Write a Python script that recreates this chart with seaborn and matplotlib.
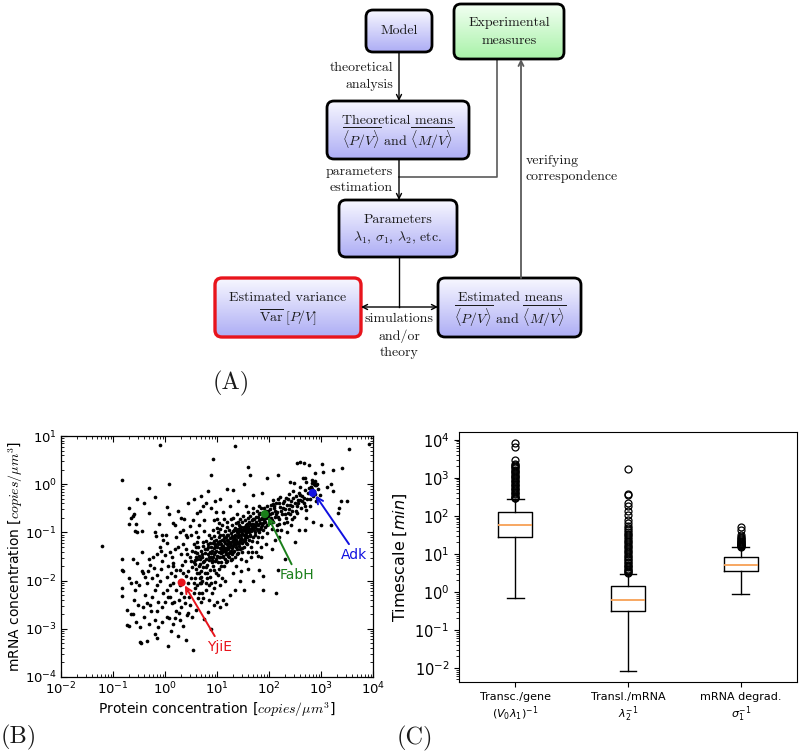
import numpy as np
import pandas as pd
import matplotlib
matplotlib.use("Agg")
import matplotlib.pyplot as plt
import seaborn as sns
from matplotlib.patches import FancyBboxPatch
from matplotlib.ticker import LogLocator, NullFormatter

# ---------------- data (panel B, log10 of protein / mRNA concentration) -------------
top_outliers = [(-0.10,0.81),(1.34,0.79),(3.93,0.83),(3.54,0.72),(0.92,0.52),(1.60,0.36),(2.54,0.45),(2.60,0.47),
    (2.67,0.44),(2.76,0.40),(3.01,0.41),(3.24,0.29),(3.41,0.33),(-0.83,0.09),(0.08,0.0),(0.88,0.19),(2.18,0.19),
    (1.96,0.12),(2.82,0.02),(2.86,0.05),(2.90,-0.02),(2.80,-0.05),(3.04,0.26),(2.88,0.23),(3.12,-0.05),(2.40,0.05),
    (2.48,0.03),(2.69,0.12),(3.24,-0.15),(3.38,-0.35),(3.50,-0.35),(3.35,-0.50),(3.33,-0.60),(3.20,-0.85),(3.00,-0.85),
    (2.98,-0.22),(1.63,0.19),(3.20,0.00),(2.85,-0.19),(-0.31,-0.08),(-0.19,-0.26)]

core = [(0.55,-1.62),(0.58,-1.40),(0.60,-1.75),(0.62,-1.55),(0.63,-1.30),(0.65,-1.85),(0.66,-1.48),(0.68,-1.66),
    (0.70,-1.38),(0.57,-1.95),(0.61,-1.20),(0.69,-1.92),(0.64,-1.10),(0.67,-2.05),(0.59,-1.52),
    (0.72,-1.50),(0.73,-1.72),(0.74,-1.28),(0.75,-1.60),(0.76,-1.42),(0.77,-1.85),(0.78,-1.18),(0.79,-1.55),
    (0.80,-1.35),(0.81,-1.68),(0.82,-1.45),(0.83,-1.25),(0.84,-1.58),(0.85,-1.05),(0.86,-1.40),(0.87,-1.78),
    (0.88,-1.30),(0.89,-1.52),(0.72,-2.00),(0.75,-0.98),(0.80,-1.95),(0.84,-2.10),(0.88,-1.12),(0.90,-1.62),
    (0.91,-1.38),(0.92,-1.22),(0.92,-1.50),(0.93,-1.70),(0.94,-1.32),(0.95,-1.08),(0.95,-1.45),(0.96,-1.60),
    (0.97,-1.25),(0.98,-1.38),(0.98,-1.85),(0.99,-1.15),(1.00,-1.48),(1.00,-1.30),(1.01,-1.00),(1.02,-1.62),
    (1.02,-1.20),(1.03,-1.40),(1.04,-1.10),(1.04,-1.75),(1.05,-1.33),(1.06,-1.52),(1.06,-0.92),(1.07,-1.25),
    (1.08,-1.42),(1.08,-1.62),(1.09,-1.15),(1.10,-1.35),(1.10,-1.95),(0.93,-0.95),(0.97,-2.02),(1.03,-0.80),
    (1.11,-1.05),(1.12,-1.28),(1.12,-1.48),(1.13,-1.18),(1.14,-1.38),(1.14,-1.70),(1.15,-0.98),(1.15,-1.22),
    (1.16,-1.55),(1.17,-1.32),(1.17,-1.10),(1.18,-1.42),(1.19,-1.25),(1.19,-0.88),(1.20,-1.60),(1.20,-1.15),
    (1.21,-1.35),(1.22,-1.05),(1.22,-1.48),(1.23,-1.22),(1.24,-1.30),(1.24,-0.95),(1.25,-1.40),(1.25,-1.12),
    (1.26,-1.58),(1.27,-1.20),(1.27,-1.02),(1.28,-1.32),(1.29,-1.45),(1.29,-0.85),(1.30,-1.15),(1.30,-1.85),
    (1.16,-2.00),(1.26,-0.72),
    (1.31,-1.28),(1.31,-0.98),(1.32,-1.10),(1.33,-1.38),(1.33,-1.20),(1.34,-0.90),(1.35,-1.05),(1.35,-1.50),
    (1.36,-1.25),(1.37,-1.15),(1.37,-0.80),(1.38,-1.35),(1.38,-1.00),(1.39,-1.20),(1.40,-0.92),(1.40,-1.10),
    (1.41,-1.42),(1.42,-1.28),(1.42,-0.85),(1.43,-1.05),(1.44,-1.18),(1.44,-0.72),(1.45,-0.98),(1.45,-1.35),
    (1.46,-1.12),(1.47,-0.88),(1.47,-1.55),(1.48,-1.02),(1.49,-1.22),(1.49,-0.78),(1.50,-0.95),(1.50,-1.15),
    (1.36,-1.70),(1.46,-1.80),(1.39,-0.62),
    (1.51,-1.05),(1.52,-0.88),(1.52,-1.30),(1.53,-0.98),(1.54,-1.12),(1.54,-0.75),(1.55,-1.02),(1.56,-0.90),
    (1.56,-1.22),(1.57,-0.82),(1.58,-1.08),(1.58,-0.95),(1.59,-1.40),(1.60,-0.70),(1.60,-0.88),(1.61,-1.00),
    (1.62,-1.15),(1.62,-0.80),(1.63,-0.92),(1.64,-1.05),(1.64,-0.65),(1.65,-0.85),(1.66,-0.98),(1.66,-1.30),
    (1.67,-0.75),(1.68,-0.90),(1.69,-1.10),(1.70,-0.82),(1.70,-0.60),(1.55,-1.60),(1.65,-1.52),
    (1.71,-0.95),(1.72,-0.72),(1.73,-0.88),(1.74,-1.05),(1.75,-0.78),(1.76,-0.55),(1.76,-0.92),(1.77,-1.20),
    (1.78,-0.68),(1.79,-0.85),(1.80,-1.00),(1.81,-0.62),(1.82,-0.80),(1.83,-0.92),(1.84,-0.50),(1.85,-0.72),
    (1.86,-1.10),(1.87,-0.85),(1.88,-0.65),(1.89,-0.95),(1.90,-0.75),(1.75,-1.40),(1.85,-1.30),
    (1.05,-1.18),(1.13,-1.32),(1.21,-1.18),(1.28,-1.08),(1.34,-1.14),(1.41,-1.02),(1.47,-0.96),(1.53,-1.06),
    (1.59,-0.86),(1.63,-0.98),(1.69,-0.88),(1.18,-1.36),(1.26,-1.26),(1.32,-1.24),(1.43,-1.22),(1.51,-1.18),
    (0.96,-1.28),(1.09,-1.40),(1.23,-1.42),(1.36,-0.94),(1.44,-0.88),(1.57,-0.96),(1.67,-0.82),(1.74,-0.84)]

core_extra = [(0.71,-1.45),(0.74,-1.62),(0.77,-1.35),(0.79,-1.72),(0.82,-1.30),(0.85,-1.50),(0.87,-1.22),
    (0.89,-1.42),(0.91,-1.58),(0.94,-1.18),(0.96,-1.40),(0.99,-1.55),(1.01,-1.25),(1.03,-1.52),(1.05,-1.05),
    (1.07,-1.38),(1.09,-1.28),(1.11,-1.52),(1.13,-1.12),(1.15,-1.35),(1.17,-1.45),(1.19,-1.05),(1.21,-1.28),
    (1.23,-1.52),(1.25,-1.22),(1.27,-1.38),(1.29,-1.10),(1.31,-1.40),(1.33,-0.95),(1.35,-1.18),(1.37,-1.30),
    (1.39,-1.08),(1.41,-1.22),(1.43,-0.95),(1.45,-1.15),(1.47,-1.05),(1.49,-1.32),(1.51,-0.92),(1.53,-1.15),
    (1.55,-0.85),(1.57,-1.10),(1.59,-0.98),(1.61,-0.78),(1.63,-1.08),(1.65,-0.92),(1.67,-1.18),(1.69,-0.72),
    (1.71,-0.85),(1.73,-1.00),(1.75,-0.68),(1.77,-0.82),(1.79,-0.95),(1.81,-0.75),(1.83,-0.60),(1.85,-0.88),
    (1.87,-0.70),(1.89,-0.80),(1.91,-0.68),(1.93,-0.78),(1.95,-0.55),(1.97,-0.85),(1.99,-0.65),(1.08,-1.70),
    (1.18,-1.62),(1.28,-1.55),(1.38,-1.45),(1.48,-1.40),(1.58,-1.25),(1.68,-1.40),(1.78,-1.10),(1.00,-0.90),
    (1.10,-0.85),(1.20,-0.78),(1.30,-0.70),(1.40,-0.78),(1.50,-0.65),(1.60,-0.58),(1.70,-0.50),(1.80,-0.45),
    (1.90,-0.50),(0.60,-1.30),(0.65,-1.70),(0.70,-1.80),(0.78,-2.05),(0.86,-1.92),(0.95,-1.78),(1.02,-1.88),
    (0.62,-1.42),(0.68,-1.55),(0.73,-1.20)]

arm = [(1.93,-0.88),(1.95,-0.70),(1.96,-0.45),(1.97,-1.02),(1.98,-0.62),(2.00,-0.80),(2.01,-0.52),(2.03,-0.43),
    (2.04,-0.70),(2.05,-0.92),(2.06,-0.60),(2.08,-0.33),(2.08,-0.78),(2.10,-0.50),(2.11,-0.68),(2.12,-1.15),
    (2.14,-0.40),(2.15,-0.85),(2.16,-0.58),(2.18,-0.30),(2.19,-0.72),(2.21,-0.26),(2.22,-0.48),(2.23,-0.95),
    (2.25,-0.62),(2.27,-0.38),(2.28,-0.80),(2.30,-0.52),(2.32,-0.28),(2.33,-0.70),(2.35,-0.44),(2.37,-0.60),
    (2.38,-0.20),(2.40,-0.43),(2.42,-0.85),(2.43,-0.35),(2.45,-0.55),(2.47,-0.15),(2.48,-0.68),(2.50,-0.40),
    (2.52,-0.25),(2.54,-0.60),(2.55,-0.33),(2.57,-0.95),(2.58,-0.18),(2.60,-0.33),(2.60,-0.05),(2.62,-0.50),
    (2.64,-0.25),(2.66,0.12),(2.67,-0.40),(2.69,-0.12),(2.71,-0.70),(2.72,0.05),(2.72,-0.54),(2.74,-0.30),
    (2.76,-0.08),(2.78,-0.45),(2.80,-0.05),(2.84,-0.25),(2.85,-0.78),(2.87,-0.15),(2.88,-0.02),(2.90,-0.35),
    (2.92,0.00),(2.95,-0.10),(1.95,-1.25),(2.20,-1.10),(2.35,-1.00),(2.05,-1.35),(1.99,-0.55),(2.13,-0.62),
    (2.26,-0.50),(2.41,-0.62),(2.53,-0.45),(2.07,-0.42),(2.20,-0.82)]

arm_extra = [(2.02,-0.62),(2.06,-0.75),(2.09,-0.45),(2.12,-0.55),(2.17,-0.68),(2.20,-0.40),(2.24,-0.55),
    (2.29,-0.35),(2.31,-0.62),(2.36,-0.30),(2.39,-0.52),(2.44,-0.45),(2.46,-0.28),(2.51,-0.55),(2.56,-0.40),
    (2.59,-0.22),(2.63,-0.35),(2.68,-0.28),(2.70,-0.45),(2.75,-0.18),(2.79,-0.30),(2.83,-0.10),(2.89,-0.20),
    (2.93,-0.28),(2.86,0.00),(2.83,0.08),(2.88,0.06),(2.35,-0.78),(2.45,-0.72),(2.15,-0.95)]

lower_left = [(-0.83,-1.56),(-0.83,-1.78),(-0.81,-1.80),(-0.83,-2.16),(-0.83,-2.32),(-0.74,-2.61),(-0.65,-2.69),
    (-0.73,-2.92),(-0.70,-2.95),(-0.48,-2.97),(-0.48,-3.27),(-0.47,-3.30),(-0.35,-3.25),(-0.16,-3.20),(0.05,-3.36),
    (-0.53,-1.64),(-0.55,-2.02),(-0.42,-1.85),(-0.39,-2.30),(-0.35,-2.47),(-0.51,-2.51),(-0.26,-2.64),(-0.19,-2.82),
    (-0.13,-2.96),(-0.29,-1.68),(-0.16,-1.88),(-0.08,-1.75),(0.03,-2.20),(0.06,-2.33),(0.16,-2.06),(0.13,-2.47),
    (0.08,-2.78),(0.22,-2.64),(0.29,-2.82),(0.42,-2.71),(0.51,-2.75),(0.22,-1.78),(0.32,-1.68),(0.42,-2.20),
    (0.55,-2.26),(0.58,-2.16),(0.64,-2.37),(0.54,-3.43),(0.40,-3.24),(0.89,-3.00),(-0.45,-1.40),(-0.30,-1.56),
    (-0.24,-1.52),(-0.22,-1.74),(-0.45,-1.81),(-0.38,-1.92),(-0.16,-2.09),(-0.10,-1.30),(-0.03,-1.16),(0.03,-1.23),
    (0.22,-1.09),(0.00,-1.47),(0.13,-1.50),(0.16,-1.64),(0.29,-1.78),(0.03,-1.92),(0.10,-2.09),(-0.03,-2.26),
    (0.10,-2.33),(-0.13,-2.44),(0.22,-2.20),(0.38,-2.47),(0.45,-2.68),(0.26,-2.68),(0.03,-2.75),(-0.16,-2.64),
    (-0.42,-2.54),(-0.60,-2.40),(-0.62,-2.70),(-0.55,-2.85),(-0.40,-2.75),(-0.30,-2.90),(-0.05,-2.85),(0.15,-2.90),
    (0.35,-2.95),(0.20,-2.78),(0.30,-2.55),(0.48,-2.50),(0.60,-2.60),(0.70,-2.45),(0.74,-2.37),(0.85,-2.40),
    (0.95,-2.50),(1.00,-2.45),(1.05,-2.54),(1.12,-2.40),(1.17,-2.48),(0.78,-2.20),(0.90,-2.25),(0.70,-2.05),
    (0.50,-1.95),(0.45,-1.80),(0.38,-1.60),(0.30,-1.45),(0.25,-1.30),(0.40,-1.35),(0.48,-1.50),(0.52,-1.72),
    (0.42,-1.10),(0.35,-0.95),(0.50,-1.05),(0.55,-1.25),(0.20,-1.90),(0.15,-1.70),(-0.05,-1.60),(-0.15,-1.45),
    (-0.20,-2.20),(-0.25,-2.35),(-0.35,-2.05),(-0.58,-2.20),(-0.65,-2.05),(-0.70,-1.95),(0.33,-2.05),(0.36,-2.35),
    (0.62,-1.85),(0.66,-2.25),(0.82,-2.65),(0.75,-2.80),(1.25,-2.30),(1.35,-2.20),(0.12,-3.05),(-0.20,-3.10),
    (0.25,-3.15),(0.45,-2.05),(0.52,-1.38),(0.35,-1.85),(0.27,-2.40),(0.58,-1.58)]

lower_left_extra = [(-0.62,-1.55),(-0.50,-2.10),(-0.32,-1.80),(-0.28,-2.50),(-0.10,-2.00),(-0.05,-2.55),
    (0.05,-1.70),(0.18,-2.45),(0.28,-2.10),(0.40,-1.90),(0.47,-2.35),(0.55,-2.05),(0.62,-2.10),(0.68,-1.95),
    (0.72,-2.25),(0.80,-1.85),(0.88,-2.05),(0.95,-2.15),(1.05,-2.10),(0.58,-1.65),(0.50,-1.60),(0.42,-1.45),
    (0.35,-1.25),(0.20,-1.35),(0.10,-1.40),(-0.08,-1.38),(0.12,-1.85),(-0.25,-1.95),(0.00,-2.45),(0.30,-2.25)]

mid_left = [(-0.69,-0.49),(-0.66,-0.70),(-0.60,-0.62),(-0.69,-0.83),(-0.56,-0.83),(-0.54,-1.00),(-0.45,-0.97),
    (-1.22,-1.28),(-0.54,-0.31),(0.04,-0.47),(-0.11,-0.83),(-0.19,-1.00),(0.15,-0.81),(0.19,-0.85),(-0.18,-1.07),
    (-0.06,-1.05),(0.02,-1.05),(0.29,-1.00),(0.37,-0.72),(0.54,-0.74),(0.62,-0.60),(0.68,-0.55),(0.73,-0.45),
    (0.83,-0.14),(0.98,-0.58),(1.11,-0.58),(1.19,-0.10),(0.96,-0.35),(0.94,-0.74),(1.00,-0.72),(1.13,-0.72),
    (0.41,-1.05),(0.48,-0.87),(-0.61,-0.67),(-0.58,-0.98),(0.08,-0.62),(0.25,-0.55),(0.45,-0.40),(0.55,-0.30),
    (0.70,-0.25),(0.78,-0.40),(0.88,-0.50),(1.31,-0.12),(1.51,0.00),(1.70,-0.22),(1.86,-0.19),(1.40,-0.35),
    (1.55,-0.45),(1.25,-0.45),(1.05,-0.30),(0.65,-0.85),(0.75,-0.75),(0.60,-1.00),(0.30,-0.70),(-0.30,-0.60),
    (-0.40,-0.40)]

low_right = [(1.51,-2.19),(1.89,-2.19),(2.13,-2.26),(1.81,-1.79),(1.88,-1.90),(2.18,-1.77),(1.78,-1.48),
    (1.84,-1.52),(1.60,-1.75),(1.45,-2.00),(2.30,-1.55),(2.50,-1.20),(2.70,-0.95),(1.70,-2.00)]

genes = ["YjiE", "FabH", "Adk"]
gene_protein_log = [0.32, 1.92, 2.84]
gene_mrna_log = [-2.04, -0.62, -0.18]
gene_colors = ["#e8141c", "#1a7f1a", "#1010e0"]
gene_text_log = [(1.05, -3.38), (2.54, -1.89), (3.64, -1.47)]

# ---------------- data (panel C, box statistics in minutes) -------------------------
box_labels = ["Transc./gene\n$(V_0\\lambda_1)^{-1}$", "Transl./mRNA\n$\\lambda_2^{-1}$",
              "mRNA degrad.\n$\\sigma_1^{-1}$"]
box_whislo = [0.68, 0.0085, 0.9]
box_q1 = [28, 0.32, 3.5]
box_med = [57, 0.62, 5.0]
box_q3 = [126, 1.45, 8.1]
box_whishi = [280, 3.0, 15]
fliers_transc = [290, 300, 320, 340, 370, 400, 430, 470, 510, 550, 600, 650, 700, 760, 820, 890, 960, 1040,
                 1120, 1200, 1300, 1400, 1500, 1620, 1750, 1880, 2000, 2150, 2300, 2950, 6600, 8000]
fliers_transl = [3.1, 3.3, 3.5, 3.8, 4.1, 4.4, 4.8, 5.2, 5.7, 6.2, 6.8, 7.5, 8.2, 9.0, 10, 11, 12, 13.5, 15,
                 16.5, 18, 20, 22, 25, 28, 31, 34, 38, 43, 47, 55, 63, 78, 104, 135, 180, 220, 350, 380, 1700]
fliers_degrad = [15.5, 16, 16.5, 17, 17.5, 18, 18.5, 19, 20, 21, 22, 23, 24, 25.5, 27, 32, 43, 52]

# ---------------- figure ------------------------------------------------------------
fig = plt.figure(figsize=(8, 7.55), dpi=100)

# panel A: flowchart drawn in pixel coordinates
ax0 = fig.add_axes([0, 0, 1, 1])
ax0.axis("off")

BLUE_TOP, BLUE_BOT = (0.97, 0.97, 1.0), (0.68, 0.68, 0.96)
GREEN_TOP, GREEN_BOT = (0.95, 1.0, 0.95), (0.66, 0.95, 0.66)
CM = dict(family="cmr10", math_fontfamily="cm", fontsize=10, color="#1a1a1a")


def gbox(x0, y0, x1, y1, top, bot, edge="k", lw=2.0):
    patch = FancyBboxPatch((x0, y0), x1 - x0, y1 - y0, boxstyle="round,pad=0,rounding_size=7",
                           fc="none", ec=edge, lw=lw, zorder=3)
    ax0.add_patch(patch)
    g = np.linspace(0, 1, 64)[:, None, None]
    img = (1 - g) * np.array(top)[None, None, :] + g * np.array(bot)[None, None, :]
    im = ax0.imshow(img, extent=[x0, x1, y1, y0], origin="upper", aspect="auto", zorder=2,
                    interpolation="bilinear")
    im.set_clip_path(patch)


def txt(x, y, s, ha="center", **kw):
    d = dict(CM)
    d.update(kw)
    ax0.text(x, y, s, ha=ha, va="center", zorder=5, **d)


def arrow(p0, p1, style="->", color="k", lw=1.0):
    ax0.annotate("", xy=p1, xytext=p0, zorder=4,
                 arrowprops=dict(arrowstyle=style, color=color, lw=lw, shrinkA=0, shrinkB=0,
                                 mutation_scale=9))


gbox(366, 10, 432, 52, BLUE_TOP, BLUE_BOT)
gbox(454, 4, 564, 59, GREEN_TOP, GREEN_BOT)
gbox(327, 101, 469, 159, BLUE_TOP, BLUE_BOT)
gbox(339, 200, 457, 257, BLUE_TOP, BLUE_BOT)
gbox(215, 278, 361, 337, BLUE_TOP, BLUE_BOT, edge="#e8141c", lw=2.4)
gbox(438, 278, 581, 337, BLUE_TOP, BLUE_BOT)

txt(399, 31, "Model")
txt(509, 23, "Experimental")
txt(509, 41, "measures")
txt(398, 121, "Theoretical means")
txt(398, 139, r"$\overline{\langle P/V\rangle}$ and $\overline{\langle M/V\rangle}$")
txt(398, 220, "Parameters")
txt(398, 238, r"$\lambda_1$, $\sigma_1$, $\lambda_2$, etc.")
txt(288, 298, "Estimated variance")
txt(288, 317, r"$\overline{\mathrm{Var}}\;[P/V]$")
txt(510, 298, "Estimated means")
txt(510, 317, r"$\overline{\langle P/V\rangle}$ and $\overline{\langle M/V\rangle}$")

txt(393, 68, "theoretical", ha="right")
txt(393, 85, "analysis", ha="right")
txt(393, 172, "parameters", ha="right")
txt(393, 188, "estimation", ha="right")
txt(526, 161, "verifying", ha="left")
txt(526, 177, "correspondence", ha="left")
txt(399, 319, "simulations")
txt(399, 336, "and/or")
txt(399, 353, "theory")

GRAY = "#5a5a5a"
arrow((399, 52), (399, 101))
arrow((399, 159), (399, 200))
ax0.plot([497, 497, 399], [59, 177, 177], color=GRAY, lw=1.2, zorder=1)
arrow((521, 278), (521, 59), color=GRAY, lw=1.3)
ax0.plot([399, 399], [257, 307], color="k", lw=1.0, zorder=1)
arrow((361, 307), (438, 307), style="<->")

PANEL = dict(family="cmr10", fontsize=17.5, color="#1a1a1a", va="center", ha="center")
ax0.text(231, 383, "(A)", **PANEL)
ax0.text(19, 737, "(B)", **PANEL)
ax0.text(415, 738, "(C)", **PANEL)
ax0.set_xlim(0, 800)
ax0.set_ylim(755, 0)

# panel B: scatter
all_pts = top_outliers + core + core_extra + arm + arm_extra + lower_left + lower_left_extra + mid_left + low_right
df = pd.DataFrame({"protein": [10 ** p[0] for p in all_pts], "mrna": [10 ** p[1] for p in all_pts]})
axB = fig.add_axes([61 / 800, 1 - 677 / 755, 312 / 800, 241 / 755])
sns.scatterplot(data=df, x="protein", y="mrna", ax=axB, color="k", s=7, linewidth=0, legend=False)
gdf = pd.DataFrame({"gene": genes, "protein": [10 ** v for v in gene_protein_log],
                    "mrna": [10 ** v for v in gene_mrna_log]})
sns.scatterplot(data=gdf, x="protein", y="mrna", hue="gene", palette=dict(zip(genes, gene_colors)),
                ax=axB, s=34, linewidth=0, legend=False, zorder=3)
axB.set_xscale("log")
axB.set_yscale("log")
axB.set_xlim(1e-2, 1e4)
axB.set_ylim(1e-4, 1e1)
for g, px, py, c, (tx, ty) in zip(genes, gene_protein_log, gene_mrna_log, gene_colors, gene_text_log):
    axB.annotate(g, xy=(10 ** px * 1.15, 10 ** py * 0.87), xytext=(10 ** tx, 10 ** ty), color=c,
                 fontsize=10, ha="center", va="center",
                 arrowprops=dict(arrowstyle="->", color=c, lw=1.4, shrinkA=1, shrinkB=0,
                                 relpos=(0.4, 1.0), mutation_scale=11))
axB.xaxis.set_major_locator(LogLocator(base=10, numticks=20))
axB.yaxis.set_major_locator(LogLocator(base=10, numticks=20))
axB.xaxis.set_minor_locator(LogLocator(base=10, subs=np.arange(2, 10), numticks=20))
axB.yaxis.set_minor_locator(LogLocator(base=10, subs=np.arange(2, 10), numticks=20))
axB.xaxis.set_minor_formatter(NullFormatter())
axB.yaxis.set_minor_formatter(NullFormatter())
axB.tick_params(which="both", direction="in", top=True, right=True, labelsize=9.5, pad=3)
axB.tick_params(which="major", length=4)
axB.tick_params(which="minor", length=2)
axB.set_xlabel(r"Protein concentration [$copies/\mu m^3$]", fontsize=10, math_fontfamily="cm", labelpad=2)
axB.set_ylabel(r"mRNA concentration [$copies/\mu m^3$]", fontsize=10, math_fontfamily="cm", labelpad=0)
for s in axB.spines.values():
    s.set_linewidth(0.9)

# panel C: box plot
axC = fig.add_axes([459 / 800, 1 - 682 / 755, 338 / 800, 250 / 755])
fl = [fliers_transc, fliers_transl, fliers_degrad]
stats = [dict(whislo=box_whislo[i], q1=box_q1[i], med=box_med[i], q3=box_q3[i], whishi=box_whishi[i],
              fliers=fl[i], label=box_labels[i]) for i in range(3)]
axC.set_yscale("log")
axC.bxp(stats, positions=[1, 2, 3], widths=0.3,
        boxprops=dict(color="k", lw=1.0), whiskerprops=dict(color="k", lw=1.0),
        capprops=dict(color="k", lw=1.0), medianprops=dict(color="#f7a055", lw=1.3),
        flierprops=dict(marker="o", mfc="none", mec="k", ms=5, mew=0.9))
axC.yaxis.set_major_locator(LogLocator(base=10, numticks=20))
axC.yaxis.set_minor_locator(LogLocator(base=10, subs=np.arange(2, 10), numticks=20))
axC.yaxis.set_minor_formatter(NullFormatter())
axC.tick_params(axis="y", labelsize=10.5)
axC.tick_params(axis="y", which="minor", length=2)
axC.tick_params(axis="x", labelsize=8)
axC.set_ylabel(r"Timescale [$min$]", fontsize=11.5, labelpad=4)
axC.set_xlim(0.5, 3.5)

fig.savefig("out.png", dpi=100)
